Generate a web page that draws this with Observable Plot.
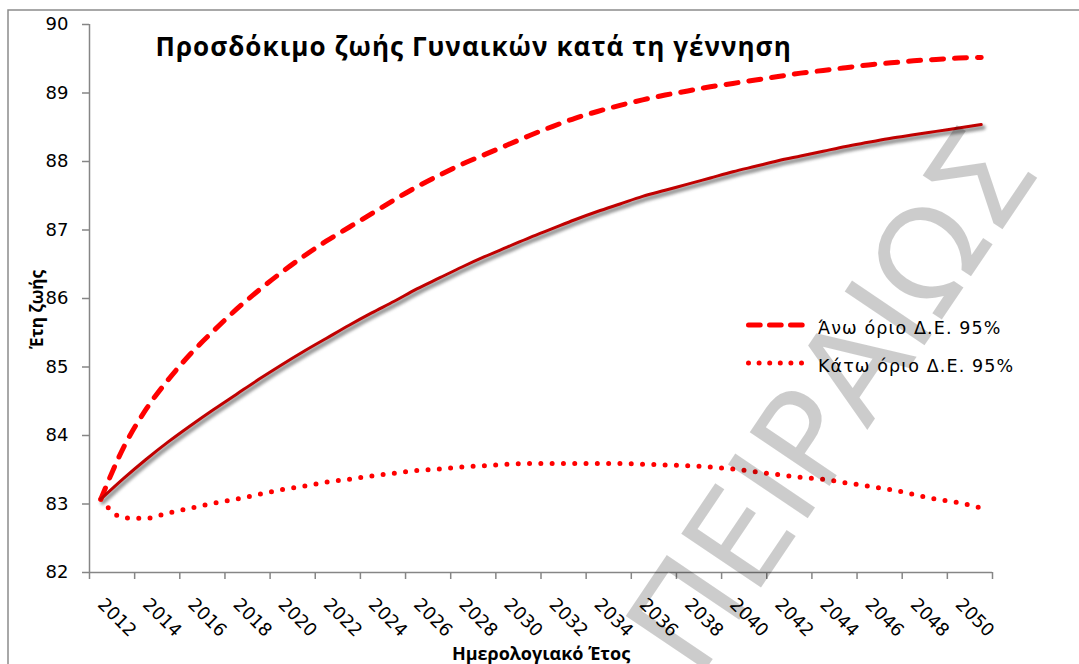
<!DOCTYPE html>
<html><head><meta charset="utf-8">
<script src="https://cdn.jsdelivr.net/npm/d3@7"></script>
<script src="https://cdn.jsdelivr.net/npm/@observablehq/plot@0.6"></script>
<style>
body{margin:0;background:#fff;}
#chart{position:relative;width:1079px;height:664px;overflow:hidden;background:#fff;}
</style>
</head><body><div id="chart"></div>
<script>
const years = [2012,2013,2014,2015,2016,2017,2018,2019,2020,2021,2022,2023,2024,2025,2026,2027,2028,2029,2030,2031,2032,2033,2034,2035,2036,2037,2038,2039,2040,2041,2042,2043,2044,2045,2046,2047,2048,2049,2050,2051];
const central = [83.07,83.37,83.65,83.91,84.15,84.38,84.60,84.82,85.03,85.23,85.42,85.61,85.79,85.96,86.14,86.30,86.46,86.61,86.75,86.89,87.02,87.15,87.27,87.38,87.49,87.58,87.67,87.76,87.85,87.93,88.01,88.08,88.15,88.22,88.28,88.34,88.39,88.44,88.49,88.54];
const upper = [83.07,83.82,84.38,84.82,85.20,85.53,85.84,86.12,86.38,86.62,86.84,87.04,87.24,87.44,87.63,87.80,87.96,88.10,88.24,88.38,88.51,88.63,88.73,88.82,88.90,88.97,89.03,89.09,89.14,89.19,89.24,89.29,89.33,89.37,89.41,89.44,89.47,89.49,89.51,89.52];
const lower = [83.07,82.80,82.79,82.87,82.94,83.01,83.07,83.14,83.21,83.26,83.32,83.36,83.41,83.45,83.49,83.51,83.54,83.56,83.58,83.59,83.59,83.59,83.59,83.59,83.58,83.57,83.56,83.54,83.51,83.47,83.43,83.39,83.36,83.31,83.26,83.21,83.14,83.07,83.02,82.94];
const yTicks = [82,83,84,85,86,87,88,89,90];
const xLabels = [2012,2014,2016,2018,2020,2022,2024,2026,2028,2030,2032,2034,2036,2038,2040,2042,2044,2046,2048,2050];
const title = "Προσδόκιμο ζωής Γυναικών κατά τη γέννηση";
const yTitle = "Έτη ζωής";
const xTitle = "Ημερολογιακό Έτος";
const legendLabels = ["Άνω όριο Δ.Ε. 95%", "Κάτω όριο Δ.Ε. 95%"];
const watermark = "ΠΕΙΡΑΙΩΣ";

const rows = years.map((year, i) => ({year, central: central[i], upper: upper[i], lower: lower[i]}));
const xBounds = [...xLabels.map(y => y - 0.5), xLabels[xLabels.length - 1] + 1.5];
const axisColor = "#868686";
const font = "DejaVu Sans";
const boldFont = "Open Sans";
const red = "#ff0000";
const dark = "#c00000";

const chart = Plot.plot({
  width: 1079, height: 664,
  marginLeft: 89, marginRight: 87, marginTop: 24, marginBottom: 92,
  x: {domain: [xBounds[0], xBounds[xBounds.length - 1]]},
  y: {domain: [yTicks[0], yTicks[yTicks.length - 1]]},
  style: {background: "white", fontFamily: font, overflow: "visible"},
  marks: [
    Plot.axisY({ticks: yTicks, tickSize: 7, tickPadding: 14, fontSize: 18, stroke: axisColor, strokeWidth: 1.5, fill: "black", label: null}),
    Plot.axisX({ticks: xBounds, tickSize: 7, tickFormat: () => "", stroke: axisColor, strokeWidth: 1.5, label: null}),
    Plot.ruleX([xBounds[0]], {stroke: axisColor, strokeWidth: 1.5}),
    Plot.ruleY([yTicks[0]], {stroke: axisColor, strokeWidth: 1.5}),
    Plot.text(xLabels, {x: d => d, text: d => String(d), frameAnchor: "bottom", dy: 29, rotate: 45, textAnchor: "start", lineAnchor: "middle", fontSize: 18, fill: "black"}),
    Plot.line(rows, {x: "year", y: "central", curve: "monotone-x", stroke: "#7a7a7a", strokeWidth: 5, dx: 2, dy: 3, ariaDescription: "shadow"}),
    Plot.line(rows, {x: "year", y: "upper", curve: "monotone-x", stroke: red, strokeWidth: 5, strokeDasharray: "12 11", strokeLinecap: "round"}),
    Plot.line(rows, {x: "year", y: "lower", curve: "monotone-x", stroke: red, strokeWidth: 5, strokeDasharray: "0 11.3", strokeLinecap: "round"}),
    Plot.line(rows, {x: "year", y: "central", curve: "monotone-x", stroke: dark, strokeWidth: 3}),
    Plot.text([title], {text: d => d, frameAnchor: "top-left", dx: 66, dy: 23, textAnchor: "start", lineAnchor: "middle", fontSize: 26, fontWeight: "bold", fontFamily: boldFont, fill: "black", ariaDescription: "title"}),
    Plot.text([yTitle], {text: d => d, frameAnchor: "left", dx: -52, dy: 11, rotate: -90, textAnchor: "middle", lineAnchor: "middle", fontSize: 17, fontWeight: "bold", fontFamily: boldFont, fill: "black"}),
    Plot.text([xTitle], {text: d => d, frameAnchor: "bottom", dy: 82, textAnchor: "middle", lineAnchor: "middle", fontSize: 18, fontWeight: "bold", fontFamily: boldFont, fill: "black"})
  ]
});

const svg = d3.select(chart);
svg.select('g[aria-description="shadow"]').style("filter", "blur(1.6px)").attr("opacity", 0.75);
svg.selectAll('g[aria-description="title"] text').attr("letter-spacing", 1.05).style("letter-spacing", "1.05px");

// outer frame
svg.append("path").attr("d", "M8,664V10H1079").attr("fill", "none").attr("stroke", "#8c8c8c").attr("stroke-width", 1.5);

// legend
const legend = [
  {label: legendLabels[0], dash: "11.7 9.3", y: 325},
  {label: legendLabels[1], dash: "0 10.6", y: 363}
];
const lg = svg.append("g").attr("text-anchor", "start");
legend.forEach(d => {
  lg.append("line").attr("x1", 748.5).attr("x2", 802.2).attr("y1", d.y).attr("y2", d.y)
    .attr("stroke", red).attr("stroke-width", 5).attr("stroke-linecap", "round").attr("stroke-dasharray", d.dash);
  lg.append("text").attr("x", 818).attr("y", d.y + 9).attr("font-family", font).attr("font-size", 17.5)
    .attr("letter-spacing", 1.1).attr("fill", "black").text(d.label);
});

// watermark
svg.append("text").attr("transform", "translate(832,400) rotate(-56)")
  .attr("text-anchor", "middle").attr("dominant-baseline", "central")
  .attr("font-family", font).attr("font-size", 132).attr("fill", "black").attr("fill-opacity", 0.2)
  .text(watermark);

document.getElementById("chart").appendChild(chart);
</script>
</body></html>
